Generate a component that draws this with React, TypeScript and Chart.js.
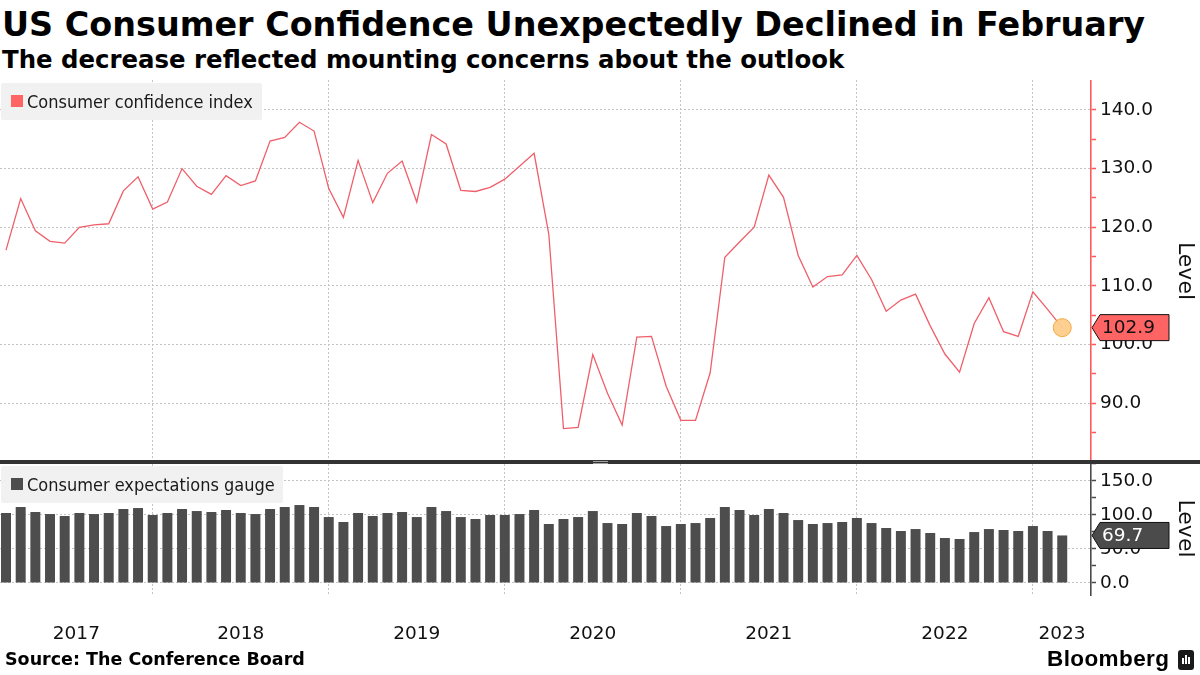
import React, { useEffect, useRef } from 'react';
import { Chart, registerables } from 'chart.js';

Chart.register(...registerables);

// ---------- data ----------
const FIRST_YEAR = 2017;
const FIRST_MONTH = 2; // February 2017 is the first monthly reading

// Conference Board consumer confidence index, Feb 2017 .. Feb 2023
const CONFIDENCE = [
  116.1, 124.9, 119.4, 117.6, 117.3, 120.0, 120.4, 120.6, 126.2, 128.6, 123.1,
  124.3, 130.0, 127.0, 125.6, 128.8, 127.1, 127.9, 134.7, 135.3, 137.9, 136.4, 126.6,
  121.7, 131.4, 124.2, 129.2, 131.3, 124.3, 135.8, 134.2, 126.3, 126.1, 126.8, 128.2,
  130.4, 132.6, 118.8, 85.7, 85.9, 98.3, 91.7, 86.3, 101.3, 101.4, 92.9, 87.1,
  87.1, 95.2, 114.9, 117.5, 120.0, 128.9, 125.1, 115.2, 109.8, 111.6, 111.9, 115.2,
  111.1, 105.7, 107.6, 108.6, 103.2, 98.4, 95.3, 103.6, 108.0, 102.2, 101.4, 109.0,
  106.0, 102.9,
];

// Consumer expectations gauge, Feb 2017 .. Feb 2023
const EXPECTATIONS = [
  102.6, 111.4, 104.1, 101.1, 98.2, 102.6, 101.1, 102.6, 108.5, 109.9, 99.7,
  102.6, 108.5, 105.5, 104.1, 107.0, 102.6, 101.1, 108.5, 111.4, 114.3, 111.4, 96.7,
  89.4, 102.6, 98.2, 102.6, 104.1, 96.7, 111.4, 105.5, 96.7, 93.8, 99.7, 99.7,
  101.1, 107.0, 86.5, 93.8, 96.7, 105.5, 87.9, 86.5, 102.6, 98.2, 83.5, 86.5,
  87.9, 95.3, 111.4, 107.0, 99.7, 108.5, 102.6, 92.3, 86.5, 87.9, 89.4, 95.3,
  87.9, 80.6, 76.2, 79.1, 73.3, 66.0, 64.5, 74.7, 79.1, 77.7, 76.2, 83.5,
  76.2, 69.7,
];

const YEARS = [2017, 2018, 2019, 2020, 2021, 2022, 2023];

const TITLE = 'US Consumer Confidence Unexpectedly Declined in February';
const SUBTITLE = 'The decrease reflected mounting concerns about the outlook';
const SERIES_TOP = 'Consumer confidence index';
const SERIES_BOTTOM = 'Consumer expectations gauge';
const AXIS_TITLE = 'Level';
const SOURCE = 'Source: The Conference Board';
const BRAND = 'Bloomberg';

// axis ranges
const X_MIN = -0.41;
const X_MAX = 73.96;
const TOP_MIN = 80;
const TOP_MAX = 145.1;
const BOT_MIN = -17.6;
const BOT_MAX = 177.4;

// ---------- styles ----------
const RED_AXIS = '#ff5a5a';
const RED_LINE = '#ef5f6a';
const RED_FLAG = '#ff6464';
const BAR = '#4d4d4d';
const DARK_AXIS = '#4a4a4a';
const GRID = '#c4c4c4';
const TEXT = '#111111';
const TICK_FONT = { family: 'DejaVu Sans', size: 18.5 };

// index of the last month of the year before `y` (month-end plotted at year boundary)
const boundary = (y: number) => (y - FIRST_YEAR - 1) * 12 + (12 - FIRST_MONTH);
const GRID_TICKS = YEARS.slice(1).map(boundary);
const LABEL_TICKS = YEARS.map((y) => {
  const lo = Math.max(X_MIN, boundary(y));
  const hi = Math.min(X_MAX, boundary(y + 1));
  return { value: (lo + hi) / 2, label: String(y) };
});

const isGridTick = (v: number) => GRID_TICKS.some((g) => Math.abs(g - v) < 1e-6);
const yearLabel = (v: number) => {
  const t = LABEL_TICKS.find((l) => Math.abs(l.value - v) < 1e-6);
  return t ? t.label : '';
};

function drawFlag(ctx: CanvasRenderingContext2D, x: number, y: number, text: string, fill: string, color: string) {
  const h = 13;
  ctx.save();
  ctx.beginPath();
  ctx.moveTo(x + 1, y);
  ctx.lineTo(x + 9, y - h);
  ctx.lineTo(x + 78, y - h);
  ctx.lineTo(x + 78, y + h);
  ctx.lineTo(x + 9, y + h);
  ctx.closePath();
  ctx.fillStyle = fill;
  ctx.fill();
  ctx.lineWidth = 1;
  ctx.strokeStyle = '#111';
  ctx.stroke();
  ctx.fillStyle = color;
  ctx.font = `${TICK_FONT.size}px ${TICK_FONT.family}`;
  ctx.textAlign = 'left';
  ctx.textBaseline = 'middle';
  ctx.fillText(text, x + 11, y + 1);
  ctx.restore();
}

const decorPlugin = {
  id: 'decor',
  afterDraw(chart: any) {
    const { ctx } = chart;
    const yTop = chart.scales.y;
    const yBot = chart.scales.y2;
    const sy = yBot.top;
    ctx.save();
    ctx.fillStyle = '#333333';
    ctx.fillRect(0, sy - 2, chart.width, 4);
    ctx.strokeStyle = '#a0a0a0';
    ctx.lineWidth = 1;
    const cx = chart.width / 2;
    ctx.beginPath();
    ctx.moveTo(cx - 7, sy - 0.5);
    ctx.lineTo(cx + 8, sy - 0.5);
    ctx.moveTo(cx - 7, sy + 1.5);
    ctx.lineTo(cx + 8, sy + 1.5);
    ctx.stroke();
    ctx.restore();

    const lastTop = CONFIDENCE[CONFIDENCE.length - 1];
    const lastBot = EXPECTATIONS[EXPECTATIONS.length - 1];
    drawFlag(ctx, yTop.left, yTop.getPixelForValue(lastTop), lastTop.toFixed(1), RED_FLAG, '#111');
    drawFlag(ctx, yBot.left, yBot.getPixelForValue(lastBot), lastBot.toFixed(1), '#4b4b4b', '#ffffff');
  },
};

export default function App() {
  const canvasRef = useRef<HTMLCanvasElement | null>(null);

  useEffect(() => {
    document.body.style.margin = '0';
    const canvas = canvasRef.current;
    if (!canvas) return;
    const last = CONFIDENCE.length - 1;

    const chart = new Chart(canvas, {
      type: 'line',
      data: {
        datasets: [
          {
            type: 'line',
            label: SERIES_TOP,
            data: CONFIDENCE.map((v, i) => ({ x: i, y: v })),
            xAxisID: 'x',
            yAxisID: 'y',
            borderColor: RED_LINE,
            borderWidth: 1.3,
            tension: 0,
            pointRadius: (c: any) => (c.dataIndex === last ? 9 : 0),
            pointBackgroundColor: 'rgba(253, 206, 140, 0.95)',
            pointBorderColor: '#f0a940',
            pointBorderWidth: 1,
          } as any,
          {
            type: 'bar',
            label: SERIES_BOTTOM,
            data: EXPECTATIONS.map((v, i) => ({ x: i, y: v })),
            xAxisID: 'x',
            yAxisID: 'y2',
            backgroundColor: BAR,
            barPercentage: 0.68,
            categoryPercentage: 1,
          } as any,
        ],
      },
      options: {
        responsive: false,
        animation: false,
        events: [],
        layout: { padding: 0, autoPadding: false },
        plugins: { legend: { display: false }, tooltip: { enabled: false }, title: { display: false } },
        scales: {
          x: {
            type: 'linear',
            position: 'bottom',
            min: X_MIN,
            max: X_MAX,
            offset: false,
            afterBuildTicks: (s: any) => {
              s.ticks = [...GRID_TICKS, ...LABEL_TICKS.map((l) => l.value)]
                .sort((a, b) => a - b)
                .map((v) => ({ value: v }));
            },
            ticks: {
              autoSkip: false,
              maxRotation: 0,
              minRotation: 0,
              padding: 28,
              color: TEXT,
              font: TICK_FONT,
              callback: (v: any) => yearLabel(Number(v)),
            },
            grid: {
              offset: false,
              color: (c: any) => (c.tick && isGridTick(c.tick.value) ? GRID : 'rgba(0,0,0,0)'),
              drawTicks: false,
              lineWidth: 1,
            },
            border: { display: false, dash: [2, 2] },
            afterFit: (s: any) => {
              s.height = 55;
              s.paddingLeft = 0;
              s.paddingRight = 0;
            },
          } as any,
          y: {
            type: 'linear',
            position: 'right',
            stack: 'panels',
            stackWeight: 382,
            min: TOP_MIN,
            max: TOP_MAX,
            ticks: {
              stepSize: 5,
              includeBounds: false,
              autoSkip: false,
              padding: 4,
              color: TEXT,
              font: TICK_FONT,
              callback: (v: any) => (v % 10 === 0 && v >= 90 && v <= 140 ? Number(v).toFixed(1) : ''),
            },
            grid: {
              color: (c: any) => {
                const v = c.tick ? c.tick.value : 0;
                return v % 10 === 0 && v >= 90 && v <= 140 ? GRID : 'rgba(0,0,0,0)';
              },
              tickColor: (c: any) => {
                const v = c.tick ? c.tick.value : 0;
                return v > TOP_MIN && v < 145 ? RED_AXIS : 'rgba(0,0,0,0)';
              },
              tickLength: 5,
              tickWidth: 1.5,
              tickBorderDash: [],
              lineWidth: 1,
            },
            border: { display: true, color: RED_AXIS, width: 1.6, dash: [2, 2] },
            title: {
              display: true,
              text: AXIS_TITLE,
              color: TEXT,
              font: { family: 'DejaVu Sans', size: 22 },
              padding: { top: 2, bottom: 0 },
            },
            afterFit: (s: any) => {
              s.width = 109;
              s.paddingTop = 0;
              s.paddingBottom = 0;
            },
          } as any,
          y2: {
            type: 'linear',
            position: 'right',
            stack: 'panels',
            stackWeight: 133,
            min: BOT_MIN,
            max: BOT_MAX,
            ticks: {
              stepSize: 25,
              includeBounds: false,
              autoSkip: false,
              padding: 4,
              color: TEXT,
              font: TICK_FONT,
              callback: (v: any) => (v % 50 === 0 && v >= 0 && v <= 150 ? Number(v).toFixed(1) : ''),
            },
            grid: {
              color: (c: any) => {
                const v = c.tick ? c.tick.value : -1;
                return v % 50 === 0 && v >= 0 && v <= 150 ? GRID : 'rgba(0,0,0,0)';
              },
              tickColor: DARK_AXIS,
              tickLength: 5,
              tickWidth: 1.5,
              tickBorderDash: [],
              lineWidth: 1,
            },
            border: { display: true, color: DARK_AXIS, width: 1.6, dash: [2, 2] },
            title: {
              display: true,
              text: AXIS_TITLE,
              color: TEXT,
              font: { family: 'DejaVu Sans', size: 22 },
              padding: { top: 2, bottom: 0 },
            },
            afterFit: (s: any) => {
              s.width = 109;
              s.paddingTop = 0;
              s.paddingBottom = 0;
            },
          } as any,
        },
      },
      plugins: [decorPlugin],
    });

    return () => chart.destroy();
  }, []);

  const legendBox = (top: number, width: number, color: string, text: string) => (
    <div
      style={{
        position: 'absolute',
        left: 1,
        top,
        width,
        height: 37,
        background: 'rgba(240,240,240,0.96)',
        borderRadius: 2,
      }}
    >
      <div style={{ position: 'absolute', left: 10, top: 12, width: 12, height: 12, background: color }} />
      <div
        style={{
          position: 'absolute',
          left: 26,
          top: 0,
          height: 37,
          lineHeight: '37px',
          fontFamily: '"DejaVu Sans Condensed", "DejaVu Sans", sans-serif',
          fontSize: 18,
          color: '#1a1a1a',
          whiteSpace: 'nowrap',
        }}
      >
        {text}
      </div>
    </div>
  );

  return (
    <div
      style={{
        position: 'relative',
        width: 1200,
        height: 675,
        overflow: 'hidden',
        background: '#ffffff',
        fontFamily: '"DejaVu Sans", sans-serif',
        color: '#000',
      }}
    >
      <div
        style={{
          position: 'absolute',
          left: 2,
          top: 8,
          fontFamily: '"DejaVu Sans", sans-serif',
          fontWeight: 700,
          fontSize: 33.4,
          lineHeight: 1,
          whiteSpace: 'nowrap',
        }}
      >
        {TITLE}
      </div>
      <div
        style={{
          position: 'absolute',
          left: 2,
          top: 48,
          fontFamily: '"DejaVu Sans", sans-serif',
          fontWeight: 700,
          fontSize: 24.4,
          lineHeight: 1,
          whiteSpace: 'nowrap',
        }}
      >
        {SUBTITLE}
      </div>
      <canvas
        ref={canvasRef}
        width={1200}
        height={570}
        style={{ position: 'absolute', left: 0, top: 80, width: 1200, height: 570 }}
      />
      {legendBox(83, 261, RED_FLAG, SERIES_TOP)}
      {legendBox(466, 282, BAR, SERIES_BOTTOM)}
      <div
        style={{
          position: 'absolute',
          left: 5,
          top: 651,
          fontFamily: '"DejaVu Sans", sans-serif',
          fontWeight: 700,
          fontSize: 17.5,
          lineHeight: 1,
          whiteSpace: 'nowrap',
        }}
      >
        {SOURCE}
      </div>
      <div
        style={{
          position: 'absolute',
          left: 1047,
          top: 648,
          fontFamily: '"Liberation Sans", Arial, sans-serif',
          fontWeight: 700,
          fontSize: 22.5,
          lineHeight: 1,
          letterSpacing: 0.4,
          whiteSpace: 'nowrap',
        }}
      >
        {BRAND}
      </div>
      <div
        style={{
          position: 'absolute',
          left: 1178,
          top: 650,
          width: 16,
          height: 20,
          borderRadius: 3,
          background: '#1a1a1a',
        }}
      >
        <div style={{ position: 'absolute', left: 4, top: 8, width: 2, height: 6, background: '#fff' }} />
        <div style={{ position: 'absolute', left: 7, top: 5, width: 2, height: 9, background: '#fff' }} />
        <div style={{ position: 'absolute', left: 10, top: 7, width: 2, height: 7, background: '#fff' }} />
      </div>
    </div>
  );
}
